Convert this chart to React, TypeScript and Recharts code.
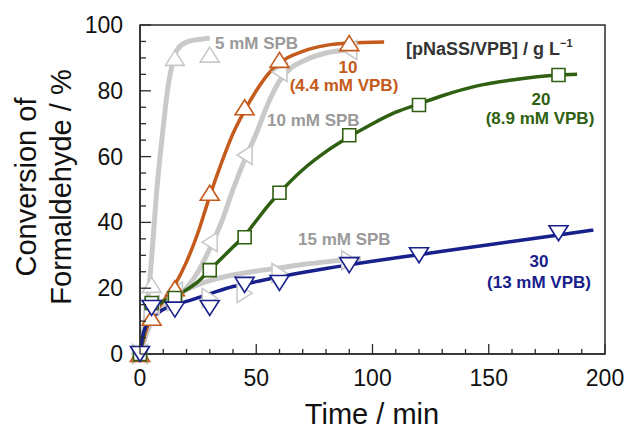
import { ComposedChart, Line, Scatter, XAxis, YAxis, ReferenceArea, Label } from "recharts";

type Pt = { x: number; y: number };

// fitted curves (time / min, conversion / %)
const curve5SPB: Pt[] = [
  { x: 0, y: 0 }, { x: 2, y: 9 }, { x: 4, y: 21 }, { x: 5, y: 29 }, { x: 7, y: 48 },
  { x: 10, y: 69 }, { x: 12, y: 81 }, { x: 14, y: 88.5 }, { x: 16, y: 92.5 },
  { x: 20, y: 94.8 }, { x: 25, y: 95.6 }, { x: 30, y: 96 },
];
const curve10SPB: Pt[] = [
  { x: 0, y: 0 }, { x: 5, y: 10 }, { x: 10, y: 14 }, { x: 15, y: 17 }, { x: 20, y: 20 },
  { x: 25, y: 25 }, { x: 30, y: 32 }, { x: 35, y: 40 }, { x: 40, y: 50 }, { x: 45, y: 59 },
  { x: 50, y: 67 }, { x: 55, y: 76 }, { x: 60, y: 83 }, { x: 65, y: 87 }, { x: 70, y: 89 },
  { x: 80, y: 91.5 }, { x: 90, y: 92.5 },
];
const curve15SPB: Pt[] = [
  { x: 0, y: 0 }, { x: 2, y: 8 }, { x: 5, y: 13 }, { x: 10, y: 16 }, { x: 15, y: 18 },
  { x: 20, y: 19.6 }, { x: 30, y: 22.3 }, { x: 40, y: 24 }, { x: 50, y: 25.2 },
  { x: 60, y: 26.2 }, { x: 70, y: 27.2 }, { x: 80, y: 28 }, { x: 95, y: 29 },
];
const curve10: Pt[] = [
  { x: 0, y: 0 }, { x: 3, y: 8 }, { x: 5, y: 11 }, { x: 10, y: 16 }, { x: 15, y: 21 },
  { x: 20, y: 28 }, { x: 25, y: 37 }, { x: 30, y: 48 }, { x: 35, y: 58 }, { x: 40, y: 67 },
  { x: 45, y: 74 }, { x: 50, y: 80 }, { x: 55, y: 85 }, { x: 60, y: 88.5 }, { x: 70, y: 92 },
  { x: 80, y: 93.8 }, { x: 90, y: 94.5 }, { x: 105, y: 94.8 },
];
const curve20: Pt[] = [
  { x: 0, y: 0 }, { x: 3, y: 10 }, { x: 5, y: 13 }, { x: 10, y: 16 }, { x: 15, y: 17.5 },
  { x: 20, y: 19.5 }, { x: 25, y: 22 }, { x: 30, y: 25.5 }, { x: 35, y: 29 }, { x: 40, y: 32.5 },
  { x: 45, y: 36 }, { x: 50, y: 40.5 }, { x: 55, y: 45 }, { x: 60, y: 49 }, { x: 70, y: 56 },
  { x: 80, y: 61.5 }, { x: 90, y: 66 }, { x: 100, y: 70 }, { x: 110, y: 73.5 }, { x: 120, y: 76 },
  { x: 130, y: 78.5 }, { x: 145, y: 81.5 }, { x: 160, y: 83.3 }, { x: 180, y: 84.8 }, { x: 188, y: 85 },
];
const curve30: Pt[] = [
  { x: 0, y: 0 }, { x: 1, y: 5 }, { x: 3, y: 9 }, { x: 5, y: 11 }, { x: 10, y: 13.5 },
  { x: 15, y: 15 }, { x: 20, y: 16 }, { x: 30, y: 18.3 }, { x: 40, y: 20.5 }, { x: 50, y: 22 },
  { x: 60, y: 23.5 }, { x: 80, y: 26 }, { x: 100, y: 28.2 }, { x: 120, y: 30.2 },
  { x: 140, y: 32.2 }, { x: 160, y: 34.2 }, { x: 180, y: 36.2 }, { x: 195, y: 37.7 },
];

// measured points
const pts5SPB: Pt[] = [{ x: 0, y: 0 }, { x: 5, y: 21 }, { x: 15, y: 90 }, { x: 30, y: 91 }];
const pts10SPB: Pt[] = [
  { x: 0, y: 0 }, { x: 5, y: 15 }, { x: 15, y: 19 }, { x: 30, y: 34 }, { x: 45, y: 60.5 },
  { x: 60, y: 85.7 }, { x: 90, y: 92.4 },
];
const pts15SPB: Pt[] = [
  { x: 0, y: 0 }, { x: 5, y: 13 }, { x: 15, y: 16 }, { x: 30, y: 17 }, { x: 45, y: 18.5 },
  { x: 60, y: 24.6 }, { x: 90, y: 28.5 },
];
const pts10: Pt[] = [
  { x: 0, y: 0 }, { x: 5, y: 11 }, { x: 15, y: 20 }, { x: 30, y: 49 }, { x: 45, y: 75 },
  { x: 60, y: 89.4 }, { x: 90, y: 94.5 },
];
const pts20: Pt[] = [
  { x: 0, y: 0 }, { x: 5, y: 15.5 }, { x: 15, y: 17 }, { x: 30, y: 25.5 }, { x: 45, y: 35.5 },
  { x: 60, y: 49 }, { x: 90, y: 66.5 }, { x: 120, y: 75.7 }, { x: 180, y: 84.8 },
];
const pts30: Pt[] = [
  { x: 0, y: 0 }, { x: 5, y: 14 }, { x: 15, y: 13.5 }, { x: 30, y: 14 }, { x: 45, y: 21 },
  { x: 60, y: 21.6 }, { x: 90, y: 27 }, { x: 120, y: 30 }, { x: 180, y: 36.7 },
];

const xTicks = Array.from({ length: 21 }, (_, i) => i * 10);
const yTicks = Array.from({ length: 21 }, (_, i) => i * 5);

const AXIS = "#2b2b2b";
const GRAY = "#c9c9c9";
const GRAY_TXT = "#9a9a9a";
const ORANGE = "#c45a1b";
const GREEN = "#2f5f10";
const NAVY = "#18208c";
const FONT = "'Liberation Sans', Arial, Helvetica, sans-serif";

function marker(kind: "up" | "down" | "left" | "right" | "square", color: string) {
  return (props: any) => {
    const { cx, cy } = props;
    let d = "";
    const w = 9.5, h = 7.5;
    if (kind === "up") d = `M${cx},${cy - h}L${cx + w},${cy + h}L${cx - w},${cy + h}Z`;
    if (kind === "down") d = `M${cx},${cy + h}L${cx + w},${cy - h}L${cx - w},${cy - h}Z`;
    if (kind === "left") d = `M${cx - h},${cy}L${cx + h},${cy - w}L${cx + h},${cy + w}Z`;
    if (kind === "right") d = `M${cx + h},${cy}L${cx - h},${cy - w}L${cx - h},${cy + w}Z`;
    if (kind === "square") d = `M${cx - 6.5},${cy - 6.5}h13v13h-13Z`;
    return <path d={d} fill="#fff" stroke={color} strokeWidth={1.6} />;
  };
}

function XTick(props: any) {
  const { x, y, payload } = props;
  const major = payload.value % 50 === 0;
  return (
    <g>
      <line x1={x} x2={x} y1={y} y2={y - (major ? 10 : 5)} stroke={AXIS} strokeWidth={1.3} />
      {major && (
        <text x={x} y={y + 32} textAnchor="middle" fontSize={23} fontFamily={FONT} fill="#111">
          {payload.value}
        </text>
      )}
    </g>
  );
}

function YTick(props: any) {
  const { x, y, payload } = props;
  const major = payload.value % 20 === 0;
  return (
    <g>
      <line x1={x} x2={x + (major ? 11 : 6)} y1={y} y2={y} stroke={AXIS} strokeWidth={1.3} />
      {major && (
        <text x={x - 17} y={y + 8} textAnchor="end" fontSize={23} fontFamily={FONT} fill="#111">
          {payload.value}
        </text>
      )}
    </g>
  );
}

function YTitle() {
  return (
    <g fontFamily={FONT} fontSize={29} fill="#111">
      <text transform="translate(36,187) rotate(-90)" textAnchor="middle">Conversion of</text>
      <text transform="translate(71,187) rotate(-90)" textAnchor="middle">Formaldehyde / %</text>
    </g>
  );
}

function XTitle() {
  return (
    <text x={372} y={424} textAnchor="middle" fontFamily={FONT} fontSize={29} fill="#111">
      Time / min
    </text>
  );
}

export default function App() {
  return (
    <div style={{ position: "absolute", left: 0, top: 0, width: 626, height: 436, background: "#fff" }}>
      <ComposedChart width={626} height={436} margin={{ top: 25, right: 21, bottom: 0, left: 0 }}>
        <XAxis
          type="number"
          dataKey="x"
          domain={[0, 200]}
          ticks={xTicks}
          interval={0}
          height={82}
          tickLine={false}
          tickSize={0}
          tickMargin={0}
          axisLine={{ stroke: AXIS, strokeWidth: 1.5 }}
          tick={<XTick />}
        >
          <Label content={<XTitle />} />
        </XAxis>
        <YAxis
          type="number"
          dataKey="y"
          domain={[0, 100]}
          ticks={yTicks}
          interval={0}
          width={140}
          tickLine={false}
          tickSize={0}
          tickMargin={0}
          axisLine={{ stroke: AXIS, strokeWidth: 1.5 }}
          tick={<YTick />}
        >
          <Label content={<YTitle />} />
        </YAxis>
        <ReferenceArea x1={0} x2={200} y1={0} y2={100} fill="none" stroke={AXIS} strokeWidth={1.5} />

        <Line data={curve5SPB} dataKey="y" type="monotone" stroke={GRAY} strokeWidth={5} dot={false} isAnimationActive={false} />
        <Line data={curve10SPB} dataKey="y" type="monotone" stroke={GRAY} strokeWidth={5} dot={false} isAnimationActive={false} />
        <Line data={curve15SPB} dataKey="y" type="monotone" stroke={GRAY} strokeWidth={5} dot={false} isAnimationActive={false} />
        <Line data={curve10} dataKey="y" type="monotone" stroke={ORANGE} strokeWidth={3.5} dot={false} isAnimationActive={false} />
        <Line data={curve20} dataKey="y" type="monotone" stroke={GREEN} strokeWidth={3.5} dot={false} isAnimationActive={false} />
        <Line data={curve30} dataKey="y" type="monotone" stroke={NAVY} strokeWidth={3.5} dot={false} isAnimationActive={false} />

        <Scatter data={pts5SPB} dataKey="y" shape={marker("up", GRAY)} isAnimationActive={false} />
        <Scatter data={pts10SPB} dataKey="y" shape={marker("left", GRAY)} isAnimationActive={false} />
        <Scatter data={pts15SPB} dataKey="y" shape={marker("right", GRAY)} isAnimationActive={false} />
        <Scatter data={pts10} dataKey="y" shape={marker("up", ORANGE)} isAnimationActive={false} />
        <Scatter data={pts20} dataKey="y" shape={marker("square", GREEN)} isAnimationActive={false} />
        <Scatter data={pts30} dataKey="y" shape={marker("down", NAVY)} isAnimationActive={false} />
      </ComposedChart>
      <svg
        width={626}
        height={436}
        style={{ position: "absolute", left: 0, top: 0, pointerEvents: "none" }}
        fontFamily={FONT}
        fontWeight="bold"
      >
        <text x={215} y={49} fontSize={17} fill={GRAY_TXT}>5 mM SPB</text>
        <text x={267} y={126} fontSize={17} fill={GRAY_TXT}>10 mM SPB</text>
        <text x={298} y={245} fontSize={17} fill={GRAY_TXT}>15 mM SPB</text>
        <text x={348} y={73} fontSize={17} fill={ORANGE} textAnchor="middle">10</text>
        <text x={344} y={91} fontSize={17} fill={ORANGE} textAnchor="middle">(4.4 mM VPB)</text>
        <text x={541} y={105} fontSize={17} fill={GREEN} textAnchor="middle">20</text>
        <text x={540} y={124} fontSize={17} fill={GREEN} textAnchor="middle">(8.9 mM VPB)</text>
        <text x={539} y={267} fontSize={17} fill={NAVY} textAnchor="middle">30</text>
        <text x={539} y={288} fontSize={17} fill={NAVY} textAnchor="middle">(13 mM VPB)</text>
        <text x={406} y={55} fontSize={18} fill="#333">
          [pNaSS/VPB] / g L<tspan fontSize={11} dy={-8}>−1</tspan>
        </text>
      </svg>
    </div>
  );
}
